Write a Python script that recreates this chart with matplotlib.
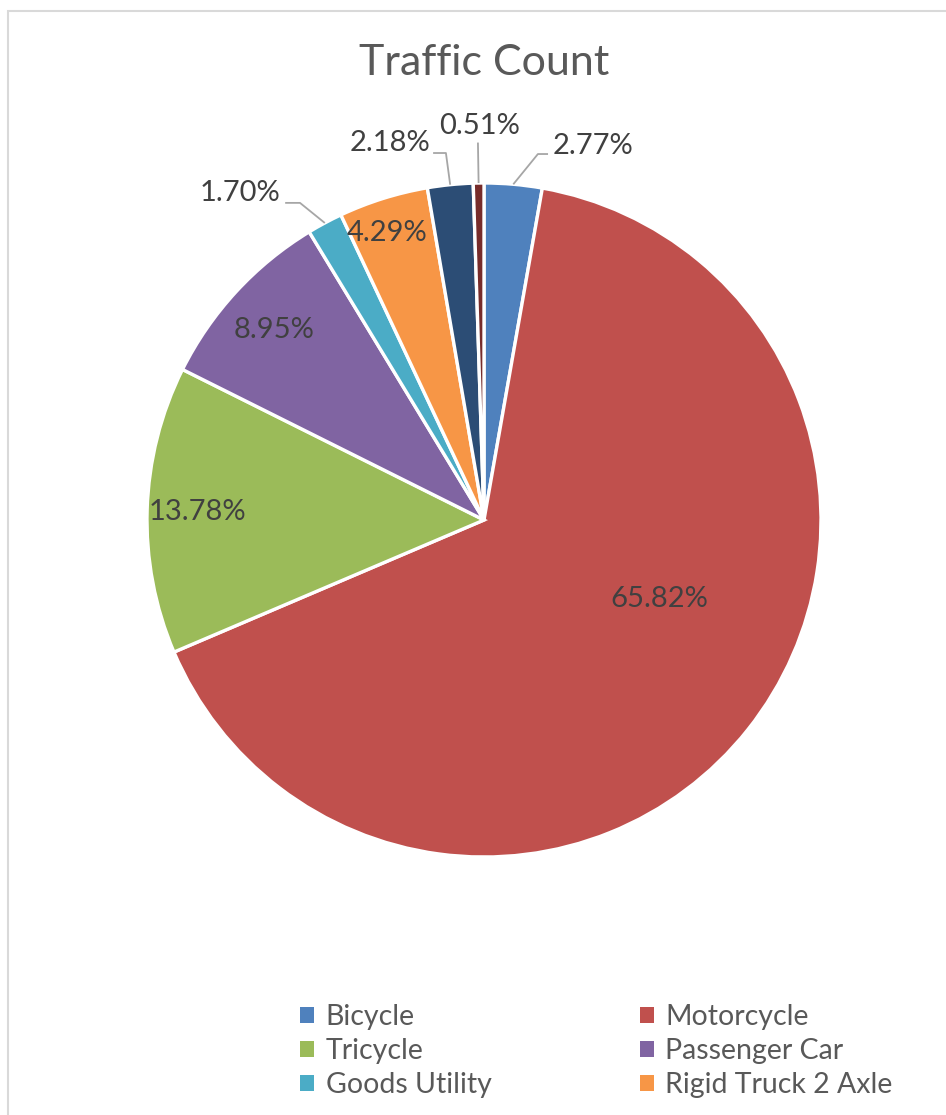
import matplotlib
matplotlib.use("Agg")
import matplotlib.pyplot as plt
from matplotlib.patches import Patch, Rectangle
import numpy as np

plt.rcParams['font.family'] = ['Lato', 'DejaVu Sans']

# traffic share per vehicle class (%), drawn clockwise from 12 o'clock
categories = ['Bicycle', 'Motorcycle', 'Tricycle', 'Passenger Car',
              'Goods Utility', 'Rigid Truck 2 Axle', 'Rigid Truck 3 Axle', 'Articulated Truck']
shares = [2.77, 65.82, 13.78, 8.95, 1.70, 4.29, 2.18, 0.51]
colors = ['#4F81BD', '#C0504D', '#9BBB59', '#8064A2',
          '#4BACC6', '#F79646', '#2C4D75', '#772C2A']
legend_count = 6

fig = plt.figure(figsize=(9.46, 11.15), dpi=100)
W, H = 946, 1115
R = 337.0
cx, cy = 484, 520
half = 1.4 * R
ax = fig.add_axes([(cx - half) / W, (H - cy - half) / H, 2 * half / W, 2 * half / H])

wedges, _ = ax.pie(shares, colors=colors, startangle=90, counterclock=False,
                   radius=1.0, wedgeprops=dict(edgecolor='white', linewidth=2.4))
# pie() resets the limits, so set them afterwards
ax.set_xlim(-1.4, 1.4)
ax.set_ylim(-1.4, 1.4)
ax.set_aspect('equal')
ax.axis('off')

label_color = '#404040'
line_color = '#A6A6A6'
fs = 21

# inside labels: (radius fraction, angle in degrees)
inside = {1: (0.57, -24.4), 2: (0.85, 178.4), 3: (0.84, 137.9), 5: (0.90, 108.7)}
for i, (r, a) in inside.items():
    t = np.deg2rad(a)
    ax.text(r * np.cos(t), r * np.sin(t), f'{shares[i]:.2f}%', ha='center', va='center',
            fontsize=fs, color=label_color)

# outside labels with leader lines: elbow point, end x, text x, text y, alignment
outside = {0: ((0.16, 1.086), 0.19, 0.205, 1.11, 'left'),
           7: ((-0.018, 1.12), -0.018, -0.012, 1.17, 'center'),
           6: ((-0.113, 1.089), -0.151, -0.16, 1.119, 'right'),
           4: ((-0.546, 0.941), -0.59, -0.605, 0.970, 'right')}
for i, ((ex, ey), endx, tx, ty, ha) in outside.items():
    w = wedges[i]
    mid = np.deg2rad((w.theta1 + w.theta2) / 2)
    sx, sy = np.cos(mid), np.sin(mid)
    ax.plot([sx, ex, endx], [sy, ey, ey], color=line_color, lw=1.3, solid_capstyle='butt')
    ax.text(tx, ty, f'{shares[i]:.2f}%', ha=ha, va='center', fontsize=fs, color=label_color)

fig.text(cx / W, 1 - 63 / H, 'Traffic Count', ha='center', va='center',
         fontsize=31, color='#595959')

# legend fills row by row
order = [0, 2, 4, 1, 3, 5]
handles = [Patch(facecolor=colors[k], edgecolor='none') for k in order]
fig.legend(handles, [categories[k] for k in order], ncol=2, loc='upper left',
           bbox_to_anchor=(300 / W, 1 - 1004 / H), frameon=False, borderaxespad=0,
           fontsize=20.5, labelcolor='#595959', handlelength=0.5, handleheight=0.5,
           handletextpad=0.4, columnspacing=5.2, labelspacing=0.28, borderpad=0)

fig.add_artist(Rectangle((8 / W, -0.1), 1.2, (H - 11) / H + 0.1, transform=fig.transFigure,
                         fill=False, edgecolor='#D9D9D9', linewidth=1.5))

fig.savefig('out.png', dpi=100)
